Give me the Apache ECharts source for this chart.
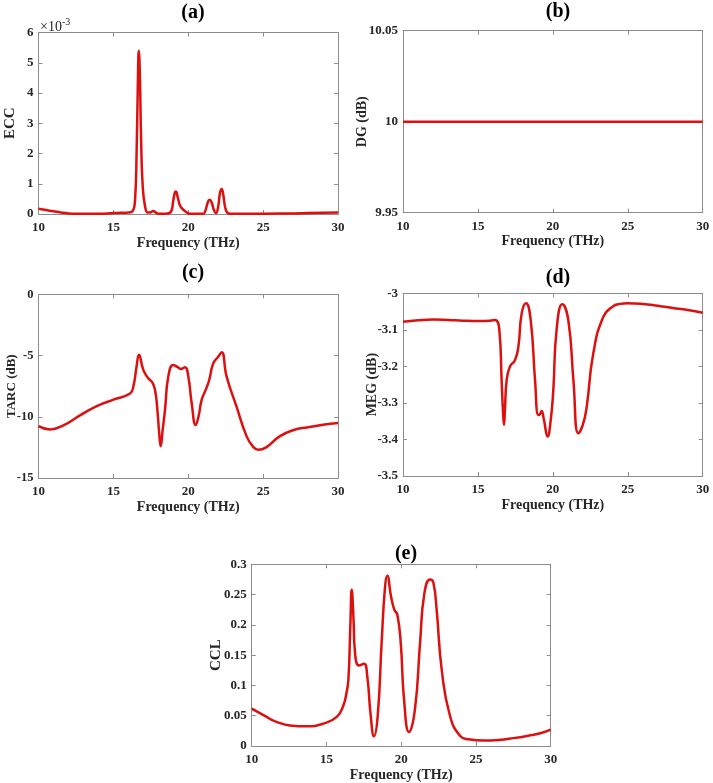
<!DOCTYPE html>
<html>
<head>
<meta charset="utf-8">
<script src="https://cdn.jsdelivr.net/npm/echarts@6/dist/echarts.min.js"></script>
<style>
html,body{margin:0;padding:0;background:#fff;}
#chart{width:713px;height:783px;}
</style>
</head>
<body>
<div id="chart"></div>
<script>
// ---------- data ----------
var xTicks = [10, 15, 20, 25, 30];

// (a) ECC, values in units of 1e-3
var eccFreq = [10, 10.5, 11, 11.5, 12, 12.5, 13, 14, 15, 15.5, 16, 16.3, 16.45, 16.55, 16.63, 16.7, 16.77, 16.85, 16.95, 17.1, 17.3, 17.5, 17.65, 17.8, 18.0, 18.5, 18.85, 19.0, 19.1, 19.17, 19.3, 19.45, 19.65, 19.9, 20.1, 21.0, 21.15, 21.3, 21.42, 21.55, 21.7, 21.85, 22.0, 22.12, 22.23, 22.35, 22.5, 22.7, 23, 25, 27, 28, 30];
var eccVal  = [0.17, 0.13, 0.09, 0.05, 0.02, 0.01, 0.01, 0.01, 0.03, 0.04, 0.05, 0.1, 0.5, 2.0, 4.2, 5.4, 4.6, 2.5, 1.0, 0.3, 0.05, 0.06, 0.1, 0.06, 0.01, 0.01, 0.08, 0.45, 0.7, 0.74, 0.55, 0.28, 0.15, 0.05, 0.01, 0.01, 0.12, 0.38, 0.47, 0.4, 0.15, 0.03, 0.25, 0.7, 0.83, 0.6, 0.15, 0.02, 0.01, 0.01, 0.02, 0.03, 0.05];

// (b) DG (dB)
var dgFreq = [10, 15, 20, 25, 30];
var dgVal  = [10, 10, 10, 10, 10];

// (c) TARC (dB)
var tarcFreq = [10, 10.77, 11.66, 12.77, 13.89, 15.0, 16.11, 16.33, 16.55, 16.71, 17.0, 17.33, 17.6, 17.78, 17.94, 18.05, 18.16, 18.28, 18.45, 18.67, 19.0, 19.3, 19.5, 19.78, 20.0, 20.23, 20.5, 20.7, 20.9, 21.19, 21.4, 21.67, 22.0, 22.23, 22.56, 23.23, 23.9, 24.3, 24.68, 25.2, 26.1, 27, 28, 29, 30];
var tarcVal  = [-10.76, -11.03, -10.7, -9.89, -9.13, -8.6, -8.1, -7.55, -5.9, -4.94, -6.17, -6.85, -7.2, -7.8, -9.45, -11.2, -12.4, -11.2, -9.4, -6.7, -5.77, -5.95, -6.1, -5.96, -6.7, -8.9, -10.67, -9.9, -8.6, -7.72, -7.0, -5.64, -5.1, -4.73, -6.7, -9.2, -11.6, -12.4, -12.7, -12.5, -11.6, -11.1, -10.85, -10.65, -10.5];

// (d) MEG (dB)
var megFreq = [10, 11, 12, 13, 14, 15, 15.8, 16.14, 16.43, 16.58, 16.68, 16.74, 16.8, 16.92, 17.14, 17.47, 17.7, 17.92, 18.21, 18.52, 18.81, 19.03, 19.15, 19.25, 19.4, 19.65, 19.85, 20.03, 20.25, 20.63, 21.03, 21.37, 21.7, 22.0, 22.26, 22.7, 23.37, 24.0, 24.48, 25, 26, 27, 28, 29, 30];
var megVal  = [-3.078, -3.074, -3.072, -3.073, -3.075, -3.076, -3.075, -3.073, -3.1, -3.237, -3.33, -3.36, -3.32, -3.237, -3.2, -3.183, -3.146, -3.055, -3.027, -3.073, -3.237, -3.333, -3.33, -3.322, -3.345, -3.392, -3.35, -3.265, -3.1, -3.03, -3.073, -3.237, -3.383, -3.36, -3.31, -3.164, -3.064, -3.036, -3.029, -3.027, -3.029, -3.034, -3.04, -3.046, -3.053];

// (e) CCL
var cclFreq = [10, 11, 11.45, 12.56, 13.68, 14.79, 15.69, 16.13, 16.35, 16.47, 16.6, 16.69, 16.8, 16.91, 17.18, 17.51, 17.73, 17.96, 18.18, 18.43, 18.69, 18.92, 19.07, 19.32, 19.54, 19.74, 19.97, 20.19, 20.52, 20.92, 21.26, 21.55, 21.93, 22.15, 22.37, 22.71, 23.26, 23.93, 24.5, 25.5, 26.5, 27.5, 28.5, 29.3, 30];
var cclVal  = [0.0617, 0.048, 0.042, 0.034, 0.0325, 0.037, 0.048, 0.067, 0.089, 0.11, 0.2, 0.258, 0.215, 0.154, 0.133, 0.136, 0.115, 0.05, 0.016, 0.05, 0.17, 0.263, 0.281, 0.247, 0.225, 0.217, 0.17, 0.077, 0.023, 0.061, 0.17, 0.252, 0.275, 0.27, 0.225, 0.126, 0.05, 0.017, 0.011, 0.009, 0.01, 0.013, 0.017, 0.021, 0.027];

// ---------- build ----------
var FONT = '"Liberation Serif","Times New Roman",serif';
var AX = '#8c8c8c';
var TXT = '#262626';
var RED = '#dd1010';

function pairs(xs, ys){ return xs.map(function(x,i){ return [x, ys[i]]; }); }

var panels = [
  {title:'(a)', tx:188, ty:-2, left:38.5, top:32.5, width:299.5, height:181.5, ymin:0, ymax:6, yint:1, yname:'ECC', yfs:15, ygap:21, lfs:13, dec:0, data:pairs(eccFreq, eccVal)},
  {title:'(b)', tx:553, ty:-3, left:403, top:30.7, width:299.7, height:182, ymin:9.95, ymax:10.05, yint:0.05, yname:'DG (dB)', yfs:14, ygap:34, lfs:13, dec:2, data:pairs(dgFreq, dgVal)},
  {title:'(c)', tx:188, ty:258, left:38.5, top:294.3, width:299.5, height:183.7, ymin:-15, ymax:0, yint:5, yname:'TARC (dB)', yfs:13, ygap:20.5, lfs:12.5, dec:0, data:pairs(tarcFreq, tarcVal)},
  {title:'(d)', tx:553, ty:263, left:403, top:293.3, width:299.7, height:182.7, ymin:-3.5, ymax:-3, yint:0.1, yname:'MEG (dB)', yfs:14, ygap:24, lfs:13, dec:1, data:pairs(megFreq, megVal)},
  {title:'(e)', tx:401, ty:539, left:251.7, top:564.3, width:299, height:182.7, ymin:0, ymax:0.3, yint:0.05, yname:'CCL', yfs:15, ygap:28, lfs:13, dec:2, data:pairs(cclFreq, cclVal)}
];

var option = {
  animation:false,
  backgroundColor:'#fff',
  title:[], grid:[], xAxis:[], yAxis:[], series:[], graphic:[]
};

panels.forEach(function(p, i){
  option.title.push({text:p.title, left:p.tx, top:p.ty, textAlign:'center',
    textStyle:{fontFamily:FONT, fontWeight:'bold', fontSize:20, color:'#000'}});
  option.grid.push({left:p.left, top:p.top, width:p.width, height:p.height, containLabel:false});
  var tickStyle = {show:true, inside:true, length:4, lineStyle:{color:AX, width:1}};
  option.xAxis.push({type:'value', gridIndex:i, min:10, max:30, interval:5, position:'bottom',
    axisLine:{show:true, onZero:false, lineStyle:{color:AX, width:1}},
    axisTick:tickStyle, splitLine:{show:false},
    axisLabel:{fontFamily:FONT, fontWeight:'bold', fontSize:13, color:TXT, margin:7},
    name:'Frequency (THz)', nameLocation:'middle', nameGap:22, nameMoveOverlap:false,
    nameTextStyle:{fontFamily:FONT, fontWeight:'bold', fontSize:14, color:TXT}});
  option.xAxis.push({type:'value', gridIndex:i, min:10, max:30, interval:5, position:'top',
    axisLine:{show:true, onZero:false, lineStyle:{color:AX, width:1}},
    axisTick:tickStyle, splitLine:{show:false}, axisLabel:{show:false}});
  var dec = p.dec;
  option.yAxis.push({type:'value', gridIndex:i, min:p.ymin, max:p.ymax, interval:p.yint, position:'left',
    axisLine:{show:true, onZero:false, lineStyle:{color:AX, width:1}},
    axisTick:tickStyle, splitLine:{show:false},
    axisLabel:{fontFamily:FONT, fontWeight:'bold', fontSize:p.lfs, color:TXT, margin:5,
      formatter:function(v){ return String(+(+v).toFixed(dec)); }},
    name:p.yname, nameLocation:'middle', nameGap:p.ygap, nameRotate:90, nameMoveOverlap:false,
    nameTextStyle:{fontFamily:FONT, fontWeight:'bold', fontSize:p.yfs, color:TXT}});
  option.yAxis.push({type:'value', gridIndex:i, min:p.ymin, max:p.ymax, interval:p.yint, position:'right',
    axisLine:{show:true, onZero:false, lineStyle:{color:AX, width:1}},
    axisTick:tickStyle, splitLine:{show:false}, axisLabel:{show:false}});
  option.series.push({type:'line', xAxisIndex:2*i, yAxisIndex:2*i, data:p.data,
    smooth:0.5, showSymbol:false, symbol:'none', clip:true,
    lineStyle:{color:RED, width:2.5}});
});

// exponent label of panel (a)
option.graphic.push({type:'text', left:40, top:17, style:{
  text:'{b|\u00d710}{s|-3}', fontFamily:FONT, fill:TXT,
  rich:{b:{fontFamily:FONT, fontSize:14, fill:TXT, verticalAlign:'bottom'},
        s:{fontFamily:FONT, fontSize:10, fill:TXT, verticalAlign:'top', padding:[0,0,7,0]}}}});

var chart = echarts.init(document.getElementById('chart'), null, {renderer:'canvas'});
chart.setOption(option);
</script>
</body>
</html>
